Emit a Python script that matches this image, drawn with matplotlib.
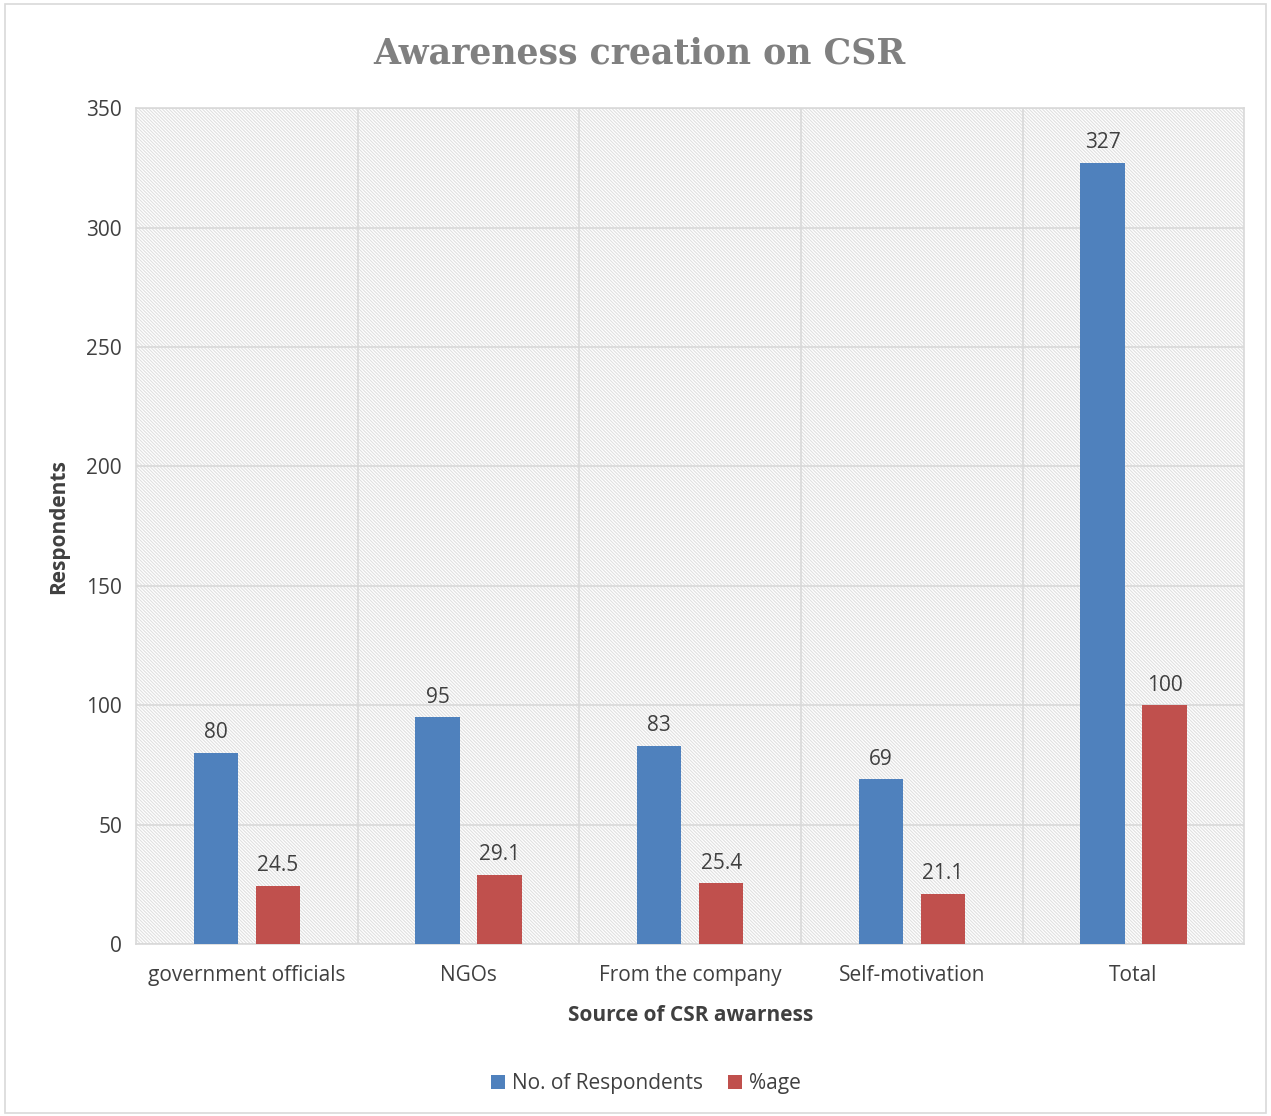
import numpy as np
import matplotlib.pyplot as plt
from matplotlib.patches import Rectangle

categories = ['government officials', 'NGOs', 'From the company',
              'Self-motivation', 'Total']
respondents = [80, 95, 83, 69, 327]
percentage = [24.5, 29.1, 25.4, 21.1, 100]

blue = '#4f81bd'
red = '#c0504d'
txt = '#404040'

plt.rcParams['font.family'] = ['Open Sans', 'DejaVu Sans']
plt.rcParams['hatch.linewidth'] = 0.8

fig = plt.figure(figsize=(12.71, 11.16), dpi=100)
fig.patches.append(Rectangle((0.004, 0.003), 0.992, 0.993, transform=fig.transFigure,
                             fill=False, edgecolor='#d9d9d9', lw=1.2))

ax = fig.add_axes([0.107, 0.154, 0.872, 0.749])
ax.set_facecolor('white')
ax.patch.set_hatch('\\' * 10)
ax.patch.set_edgecolor('#e0e0e0')

x = np.arange(len(categories))
w = 0.2
b1 = ax.bar(x - 0.14, respondents, w, color=blue, label='No. of Respondents', zorder=3)
b2 = ax.bar(x + 0.14, percentage, w, color=red, label='%age', zorder=3)

for bars, vals in ((b1, respondents), (b2, percentage)):
    for r, v in zip(bars, vals):
        ax.annotate(f'{v:g}', (r.get_x() + r.get_width() / 2, v),
                    xytext=(0, 7), textcoords='offset points',
                    ha='center', va='bottom', fontsize=15, color=txt)

ax.set_xlim(-0.5, len(categories) - 0.5)
ax.set_ylim(0, 350)
ax.set_yticks(range(0, 351, 50))
ax.set_xticks(x)
ax.set_xticklabels(categories)
ax.tick_params(length=0, labelsize=15, labelcolor=txt)
ax.tick_params(axis='x', pad=15)
ax.tick_params(axis='y', pad=10)

ax.grid(axis='y', color='#d9d9d9', lw=1.2, zorder=1)
for b in np.arange(0.5, len(categories) - 1, 1):
    ax.axvline(b, color='#d9d9d9', lw=1.2, zorder=1)
for s in ax.spines.values():
    s.set_color('#d9d9d9')
    s.set_linewidth(1.2)
ax.set_axisbelow(True)

ax.set_ylabel('Respondents', fontsize=15, fontweight='bold', color=txt, labelpad=12)
ax.set_xlabel('Source of CSR awarness', fontsize=15, fontweight='bold', color=txt, labelpad=14)

fig.text(0.503, 0.952, 'Awareness creation on CSR', ha='center', va='center',
         fontsize=25, fontweight='bold', color='#808080', family='DejaVu Serif')

fig.legend(handles=[b1, b2], loc='center', bbox_to_anchor=(0.508, 0.029), ncol=2,
           frameon=False, fontsize=15, handlelength=0.7, handleheight=0.7,
           handletextpad=0.3, columnspacing=1.2, labelcolor=txt)

fig.savefig('out.png', dpi=100)
